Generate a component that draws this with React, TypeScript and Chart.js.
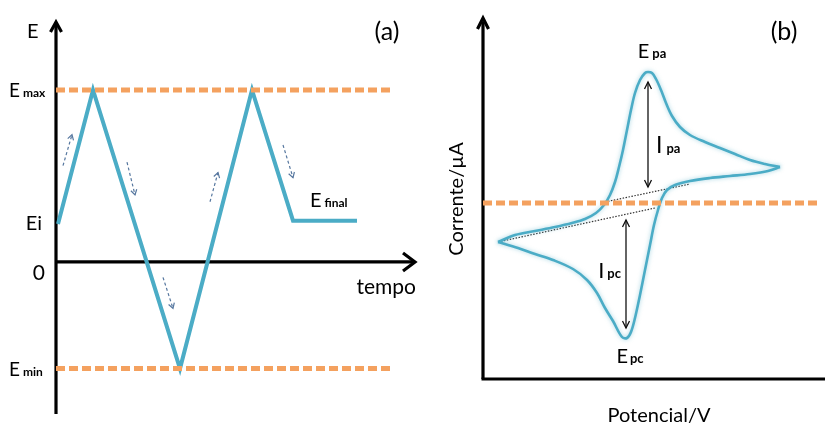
import React, { useEffect, useRef } from "react";
import { Chart, registerables } from "chart.js";

Chart.register(...registerables);

const FONT = "Lato, 'Open Sans', sans-serif";
const TEAL = "#4BACC6";
const ORANGE = "#F4A15F";
const HINT_BLUE = "#56779f";

// ---------- (a) applied potential vs. time ----------
const sweepTime = [0.2, 3.7, 12.4, 19.6, 23.7, 30.1];
const sweepPotential = [0.22, 1.0, -0.62, 1.0, 0.24, 0.24];
const E_MAX = 1.0;
const E_MIN = -0.62;
const E_INITIAL = 0.22;
const E_FINAL = 0.24;
const limitLineEnd = 33.6;
const timeAxisMax = 35.9;
const potentialAxisMin = -0.884;
const potentialAxisMax = 1.395;

// dashed hints showing the sweep direction (from -> to)
const hintFromTime = [0.7, 7.1, 10.7, 15.4, 22.7];
const hintFromPotential = [0.56, 0.58, -0.09, 0.35, 0.68];
const hintToTime = [1.6, 7.9, 11.7, 16.2, 23.7];
const hintToPotential = [0.74, 0.39, -0.27, 0.52, 0.49];

// ---------- (b) cyclic voltammogram ----------
const forwardPotential = [
  0.15, 0.32, 0.52, 0.72, 0.89, 1.02, 1.13, 1.21, 1.27, 1.32, 1.36, 1.4, 1.44,
  1.48, 1.52, 1.57, 1.62, 1.65, 1.69, 1.73, 1.78, 1.83, 1.89, 1.97, 2.07, 2.22,
  2.37, 2.52, 2.67, 2.82, 2.97,
];
const forwardCurrent = [
  -0.39, -0.32, -0.28, -0.24, -0.2, -0.16, -0.1, -0.02, 0.08, 0.21, 0.36, 0.53,
  0.73, 0.93, 1.1, 1.23, 1.3, 1.31, 1.3, 1.24, 1.13, 1.0, 0.87, 0.76, 0.68,
  0.61, 0.55, 0.49, 0.43, 0.39, 0.36,
];
const reversePotential = [
  2.97, 2.85, 2.67, 2.47, 2.27, 2.07, 1.92, 1.84, 1.79, 1.75, 1.71, 1.67, 1.62,
  1.57, 1.52, 1.48, 1.44, 1.39, 1.3, 1.22, 1.14, 1.04, 0.9, 0.7, 0.52, 0.35,
  0.15,
];
const reverseCurrent = [
  0.36, 0.32, 0.29, 0.27, 0.25, 0.22, 0.18, 0.13, 0.05, -0.07, -0.22, -0.42,
  -0.67, -0.92, -1.15, -1.29, -1.35, -1.34, -1.18, -1.05, -0.9, -0.77, -0.66,
  -0.57, -0.51, -0.45, -0.39,
];
const cvPotentialMax = 3.42;
const cvCurrentMin = -1.76;
const cvCurrentMax = 1.83;
const zeroLineEnd = 3.34;

// peak current markers
const anodicPeakPotential = 1.65;
const anodicArrowCurrent = [1.21, 0.16];
const anodicPeakCurrent = 1.31;
const cathodicPeakPotential = 1.43;
const cathodicArrowCurrent = [-0.17, -1.25];
const cathodicPeakCurrent = -1.35;

// extrapolated baselines
const cathodicBaselinePotential = [0.15, 1.72];
const cathodicBaselineCurrent = [-0.39, -0.05];
const anodicBaselinePotential = [1.22, 2.07];
const anodicBaselineCurrent = [0.01, 0.19];

const pts = (xs: number[], ys: number[]) => xs.map((x, i) => ({ x, y: ys[i] }));

function line(ctx: CanvasRenderingContext2D, x1: number, y1: number, x2: number, y2: number) {
  ctx.beginPath();
  ctx.moveTo(x1, y1);
  ctx.lineTo(x2, y2);
  ctx.stroke();
}

// open chevron head pointing from (fx,fy) to tip (tx,ty)
function head(ctx: CanvasRenderingContext2D, fx: number, fy: number, tx: number, ty: number, len: number, half: number) {
  const a = Math.atan2(ty - fy, tx - fx);
  const c = Math.cos(a);
  const s = Math.sin(a);
  const bx = tx - c * len;
  const by = ty - s * len;
  ctx.beginPath();
  ctx.moveTo(bx - s * half, by + c * half);
  ctx.lineTo(tx, ty);
  ctx.lineTo(bx + s * half, by - c * half);
  ctx.stroke();
}

function subLabel(
  ctx: CanvasRenderingContext2D,
  main: string,
  sub: string,
  x: number,
  baseline: number,
  mainSize: number,
  subSize: number,
  align: "left" | "center" | "right",
  gap = 3,
  drop = 0
) {
  const mainFont = `${mainSize}px ${FONT}`;
  const subFont = `bold ${subSize}px ${FONT}`;
  ctx.font = mainFont;
  const mw = ctx.measureText(main).width;
  ctx.font = subFont;
  const sw = ctx.measureText(sub).width;
  const total = mw + gap + sw;
  const start = align === "left" ? x : align === "right" ? x - total : x - total / 2;
  ctx.textAlign = "left";
  ctx.textBaseline = "alphabetic";
  ctx.font = mainFont;
  ctx.fillText(main, start, baseline);
  ctx.font = subFont;
  ctx.fillText(sub, start + mw + gap, baseline + drop);
}

function text(ctx: CanvasRenderingContext2D, s: string, x: number, baseline: number, size: number, align: CanvasTextAlign) {
  ctx.font = `${size}px ${FONT}`;
  ctx.textAlign = align;
  ctx.textBaseline = "alphabetic";
  ctx.fillText(s, x, baseline);
}

const programAxes = {
  id: "programAxes",
  beforeDatasetsDraw(chart: any) {
    const { ctx, chartArea } = chart;
    const xs = chart.scales.x;
    const ys = chart.scales.y;
    const ox = xs.getPixelForValue(0);
    const oy = ys.getPixelForValue(0);
    ctx.save();
    ctx.strokeStyle = "#000";
    ctx.lineWidth = 3.2;
    ctx.lineJoin = "miter";
    line(ctx, ox, chartArea.bottom, ox, chartArea.top + 2);
    head(ctx, ox, chartArea.bottom, ox, chartArea.top, 10, 5.5);
    line(ctx, ox, oy, chartArea.right - 2, oy);
    head(ctx, ox, oy, chartArea.right, oy, 12, 9);
    ctx.restore();
  },
  afterDatasetsDraw(chart: any) {
    const { ctx, chartArea } = chart;
    const xs = chart.scales.x;
    const ys = chart.scales.y;
    const ox = xs.getPixelForValue(0);
    const oy = ys.getPixelForValue(0);
    ctx.save();
    // sweep direction hints
    ctx.strokeStyle = HINT_BLUE;
    ctx.lineWidth = 1.2;
    for (let i = 0; i < hintFromTime.length; i++) {
      const fx = xs.getPixelForValue(hintFromTime[i]);
      const fy = ys.getPixelForValue(hintFromPotential[i]);
      const tx = xs.getPixelForValue(hintToTime[i]);
      const ty = ys.getPixelForValue(hintToPotential[i]);
      ctx.setLineDash([3, 2.5]);
      line(ctx, fx, fy, tx, ty);
      ctx.setLineDash([]);
      head(ctx, fx, fy, tx, ty, 5, 3);
    }
    // labels
    ctx.fillStyle = "#000";
    text(ctx, "E", ox - 29, chartArea.top + 16, 20, "left");
    subLabel(ctx, "E", "max", ox - 47, ys.getPixelForValue(E_MAX) + 7, 19, 12, "left", 3);
    text(ctx, "Ei", ox - 14, ys.getPixelForValue(E_INITIAL) + 6, 20, "right");
    text(ctx, "0", ox - 11, oy + 18, 21, "right");
    subLabel(ctx, "E", "min", ox - 47, ys.getPixelForValue(E_MIN) + 7, 19, 12, "left", 3);
    text(ctx, "tempo", chartArea.right + 1, oy + 32, 21, "right");
    subLabel(ctx, "E", "final", xs.getPixelForValue(sweepTime[4]) + 17, ys.getPixelForValue(E_FINAL) - 14, 20, 12, "left", 3);
    text(ctx, "(a)", 387, 40, 25, "center");
    ctx.restore();
  },
};

const cvDecor = {
  id: "cvDecor",
  beforeDatasetsDraw(chart: any) {
    const { ctx, chartArea } = chart;
    const xs = chart.scales.x;
    const ox = xs.getPixelForValue(0);
    ctx.save();
    ctx.strokeStyle = "#000";
    ctx.lineWidth = 3.2;
    line(ctx, ox, chartArea.bottom, ox, chartArea.top + 2);
    head(ctx, ox, chartArea.bottom, ox, chartArea.top - 2, 11, 5.5);
    line(ctx, ox - 1.5, chartArea.bottom, chartArea.right + 4, chartArea.bottom);
    ctx.restore();
  },
  beforeDatasetDraw(chart: any, args: any) {
    if (args.meta.dataset && chart.data.datasets[args.index].glow) {
      chart.ctx.save();
      chart.ctx.shadowColor = "rgba(75,172,198,0.5)";
      chart.ctx.shadowBlur = 4;
    }
  },
  afterDatasetDraw(chart: any, args: any) {
    if (args.meta.dataset && chart.data.datasets[args.index].glow) {
      chart.ctx.restore();
    }
  },
  afterDatasetsDraw(chart: any) {
    const { ctx, chartArea } = chart;
    const xs = chart.scales.x;
    const ys = chart.scales.y;
    ctx.save();
    ctx.strokeStyle = "#111";
    ctx.lineWidth = 1.3;
    const drawDouble = (xv: number, range: number[]) => {
      const px = xs.getPixelForValue(xv);
      const y1 = ys.getPixelForValue(range[0]);
      const y2 = ys.getPixelForValue(range[1]);
      line(ctx, px, y1, px, y2);
      head(ctx, px, y2, px, y1, 7, 3.5);
      head(ctx, px, y1, px, y2, 7, 3.5);
      return px;
    };
    const ax = drawDouble(anodicPeakPotential, anodicArrowCurrent);
    const cx = drawDouble(cathodicPeakPotential, cathodicArrowCurrent);

    ctx.fillStyle = "#000";
    subLabel(ctx, "E", "pa", ax + 4, ys.getPixelForValue(anodicPeakCurrent) - 14, 20, 13, "center", 3);
    subLabel(ctx, "I", "pa", ax + 8, ys.getPixelForValue(anodicArrowCurrent[0]) + 71, 23, 13, "left", 4);
    subLabel(ctx, "I", "pc", cx - 5, ys.getPixelForValue(cathodicArrowCurrent[0]) + 58, 22, 13, "right", 3);
    subLabel(ctx, "E", "pc", cx + 4, ys.getPixelForValue(cathodicPeakCurrent) + 25, 20, 13, "center", 2);
    text(ctx, "(b)", 364, 40, 25, "center");
    text(ctx, "Potencial/V", (xs.getPixelForValue(0) + chartArea.right) / 2 + 5, 422, 20, "center");
    ctx.save();
    ctx.translate(37, 199);
    ctx.rotate(-Math.PI / 2);
    ctx.font = `20px ${FONT}`;
    ctx.textAlign = "center";
    ctx.textBaseline = "middle";
    ctx.fillText("Corrente/µA", 0, 0);
    ctx.restore();
    ctx.restore();
  },
};

function baseOptions(xmin: number, xmax: number, ymin: number, ymax: number, padding: any) {
  return {
    responsive: false,
    animation: false as const,
    devicePixelRatio: 1,
    events: [],
    layout: { padding },
    plugins: { legend: { display: false }, tooltip: { enabled: false } },
    scales: {
      x: { type: "linear" as const, display: false, min: xmin, max: xmax },
      y: { type: "linear" as const, display: false, min: ymin, max: ymax },
    },
  };
}

function ProgramChart() {
  const ref = useRef<HTMLCanvasElement>(null);
  useEffect(() => {
    if (!ref.current) return;
    const chart = new Chart(ref.current, {
      type: "scatter",
      data: {
        datasets: [
          {
            data: pts([0, limitLineEnd], [E_MAX, E_MAX]),
            showLine: true,
            borderColor: ORANGE,
            borderWidth: 5,
            borderDash: [9, 4],
            pointRadius: 0,
            clip: false,
          },
          {
            data: pts([0, limitLineEnd], [E_MIN, E_MIN]),
            showLine: true,
            borderColor: ORANGE,
            borderWidth: 5,
            borderDash: [9, 4],
            pointRadius: 0,
            clip: false,
          },
          {
            data: pts(sweepTime, sweepPotential),
            showLine: true,
            borderColor: TEAL,
            borderWidth: 4,
            borderJoinStyle: "miter",
            pointRadius: 0,
            tension: 0,
            clip: false,
          },
        ],
      } as any,
      options: baseOptions(0, timeAxisMax, potentialAxisMin, potentialAxisMax, {
        left: 56,
        right: 5,
        top: 22,
        bottom: 11,
      }) as any,
      plugins: [programAxes],
    });
    return () => chart.destroy();
  }, []);
  return <canvas ref={ref} width={420} height={425} style={{ display: "block" }} />;
}

function VoltammogramChart() {
  const ref = useRef<HTMLCanvasElement>(null);
  useEffect(() => {
    if (!ref.current) return;
    const chart = new Chart(ref.current, {
      type: "scatter",
      data: {
        datasets: [
          {
            data: pts([0, zeroLineEnd], [0, 0]),
            showLine: true,
            borderColor: ORANGE,
            borderWidth: 5,
            borderDash: [9, 4],
            pointRadius: 0,
            clip: false,
          },
          {
            data: pts(forwardPotential, forwardCurrent),
            showLine: true,
            borderColor: TEAL,
            borderWidth: 2.6,
            pointRadius: 0,
            tension: 0.35,
            clip: false,
            glow: true,
          },
          {
            data: pts(reversePotential, reverseCurrent),
            showLine: true,
            borderColor: TEAL,
            borderWidth: 2.6,
            pointRadius: 0,
            tension: 0.35,
            clip: false,
            glow: true,
          },
          {
            data: pts(cathodicBaselinePotential, cathodicBaselineCurrent),
            showLine: true,
            borderColor: "#333",
            borderWidth: 1.2,
            borderDash: [1.5, 1.5],
            pointRadius: 0,
          },
          {
            data: pts(anodicBaselinePotential, anodicBaselineCurrent),
            showLine: true,
            borderColor: "#333",
            borderWidth: 1.2,
            borderDash: [1.5, 1.5],
            pointRadius: 0,
          },
        ],
      } as any,
      options: baseOptions(0, cvPotentialMax, cvCurrentMin, cvCurrentMax, {
        left: 63,
        right: 0,
        top: 20,
        bottom: 46,
      }) as any,
      plugins: [cvDecor],
    });
    return () => chart.destroy();
  }, []);
  return <canvas ref={ref} width={405} height={425} style={{ display: "block" }} />;
}

export default function App() {
  return (
    <div
      style={{
        position: "absolute",
        left: 0,
        top: 0,
        width: 825,
        height: 425,
        background: "#fff",
        overflow: "hidden",
      }}
    >
      <div style={{ position: "absolute", left: 0, top: 0 }}>
        <ProgramChart />
      </div>
      <div style={{ position: "absolute", left: 420, top: 0 }}>
        <VoltammogramChart />
      </div>
    </div>
  );
}
